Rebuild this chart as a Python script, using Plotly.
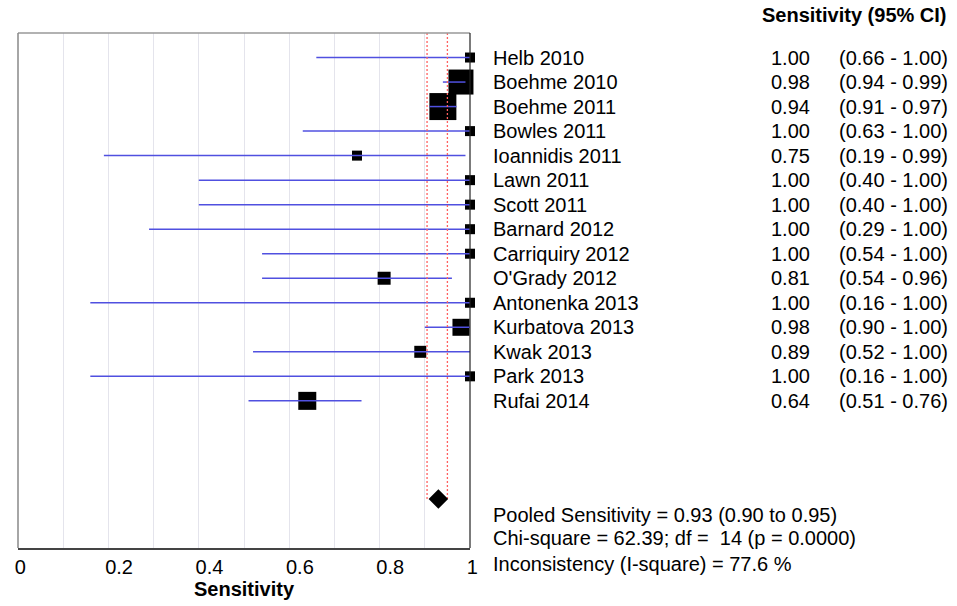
import plotly.graph_objects as go

studies = ["Helb 2010", "Boehme 2010", "Boehme 2011", "Bowles 2011", "Ioannidis 2011",
           "Lawn 2011", "Scott 2011", "Barnard 2012", "Carriquiry 2012", "O'Grady 2012",
           "Antonenka 2013", "Kurbatova 2013", "Kwak 2013", "Park 2013", "Rufai 2014"]
sens = [1.00, 0.98, 0.94, 1.00, 0.75, 1.00, 1.00, 1.00, 1.00, 0.81, 1.00, 0.98, 0.89, 1.00, 0.64]
ci_lo = [0.66, 0.94, 0.91, 0.63, 0.19, 0.40, 0.40, 0.29, 0.54, 0.54, 0.16, 0.90, 0.52, 0.16, 0.51]
ci_hi = [1.00, 0.99, 0.97, 1.00, 0.99, 1.00, 1.00, 1.00, 1.00, 0.96, 1.00, 1.00, 1.00, 1.00, 0.76]
weights = [1.0, 2.5, 2.7, 1.0, 1.0, 1.0, 1.0, 1.0, 1.0, 1.3, 1.0, 1.7, 1.2, 1.0, 1.8]

pooled = 0.93
pooled_lo = 0.905
pooled_hi = 0.95
stats_lines = ["Pooled Sensitivity = 0.93 (0.90 to 0.95)",
               "Chi-square = 62.39; df =  14 (p = 0.0000)",
               "Inconsistency (I-square) = 77.6 %"]

tick_vals = [0, 0.1, 0.2, 0.3, 0.4, 0.5, 0.6, 0.7, 0.8, 0.9, 1.0]
tick_text = ["0", "", "0.2", "", "0.4", "", "0.6", "", "0.8", "", "1"]

FONT = "Liberation Sans, Arial, sans-serif"
rows = list(range(len(studies)))
pooled_row = 18

fig = go.Figure()

# study squares
fig.add_trace(go.Scatter(
    x=sens, y=rows, mode="markers",
    marker=dict(symbol="square", size=[10 * w for w in weights], color="black",
                opacity=1, line=dict(width=0)),
    cliponaxis=False, showlegend=False, hoverinfo="skip"))

# CI lines (drawn over squares)
lx, ly = [], []
for r, l, h in zip(rows, ci_lo, ci_hi):
    lx += [l, h, None]
    ly += [r, r, None]
fig.add_trace(go.Scatter(x=lx, y=ly, mode="lines",
                         line=dict(color="#5050e0", width=1.5),
                         showlegend=False, hoverinfo="skip"))

# pooled CI dotted red lines
for v in (pooled_lo, pooled_hi):
    fig.add_trace(go.Scatter(x=[v, v], y=[-1, pooled_row], mode="lines",
                             line=dict(color="#ff6060", width=1.3, dash="2px,2px"),
                             showlegend=False, hoverinfo="skip"))

# pooled diamond
fig.add_trace(go.Scatter(x=[pooled], y=[pooled_row], mode="markers",
                         marker=dict(symbol="diamond", size=15, color="black", opacity=1),
                         cliponaxis=False, showlegend=False, hoverinfo="skip"))

ann = []
for r, name, s, l, h in zip(rows, studies, sens, ci_lo, ci_hi):
    ann.append(dict(x=1.046, y=r, xref="paper", yref="y", text=name,
                    xanchor="left", yanchor="middle", showarrow=False))
    ann.append(dict(x=1.757, y=r, xref="paper", yref="y", text=f"{s:.2f}",
                    xanchor="right", yanchor="middle", showarrow=False))
    ann.append(dict(x=1.812, y=r, xref="paper", yref="y", text=f"({l:.2f} - {h:.2f})",
                    xanchor="left", yanchor="middle", showarrow=False))
ann.append(dict(x=2.06, y=1.0346, xref="paper", yref="paper", text="<b>Sensitivity (95% CI)</b>",
                xanchor="right", yanchor="middle", showarrow=False))
for yy, t in zip([0.0644, 0.0198, -0.031], stats_lines):
    ann.append(dict(x=1.046, y=yy, xref="paper", yref="paper", text=t,
                    xanchor="left", yanchor="middle", showarrow=False))

shapes = [
    dict(type="line", xref="paper", yref="paper", x0=0, x1=1, y0=1, y1=1,
         line=dict(color="#999999", width=1.5)),
    dict(type="line", xref="paper", yref="paper", x0=0, x1=0, y0=0, y1=1,
         line=dict(color="#888888", width=1.5)),
    dict(type="line", xref="paper", yref="paper", x0=1, x1=1, y0=0, y1=1,
         line=dict(color="#222222", width=1.2)),
]

fig.update_layout(
    width=957, height=606,
    margin=dict(l=18, r=487, t=33, b=53),
    paper_bgcolor="white", plot_bgcolor="white",
    font=dict(family=FONT, size=20, color="black"),
    annotations=ann, shapes=shapes,
    xaxis=dict(range=[0, 1], tickvals=tick_vals, ticktext=tick_text,
               showgrid=True, gridcolor="#e4e4ec", gridwidth=1,
               showline=True, linecolor="#444444", linewidth=1.5,
               ticks="", zeroline=False,
               ticklabelposition="outside right", ticklabelshift=-4,
               tickfont=dict(size=20),
               title=dict(text="<b>Sensitivity</b>", font=dict(size=20), standoff=2)),
    yaxis=dict(range=[20, -1], showgrid=False, zeroline=False, showticklabels=False,
               showline=False),
)

fig.write_html("out.html", config={"displayModeBar": False},
               post_script="document.body.style.margin='0';")
